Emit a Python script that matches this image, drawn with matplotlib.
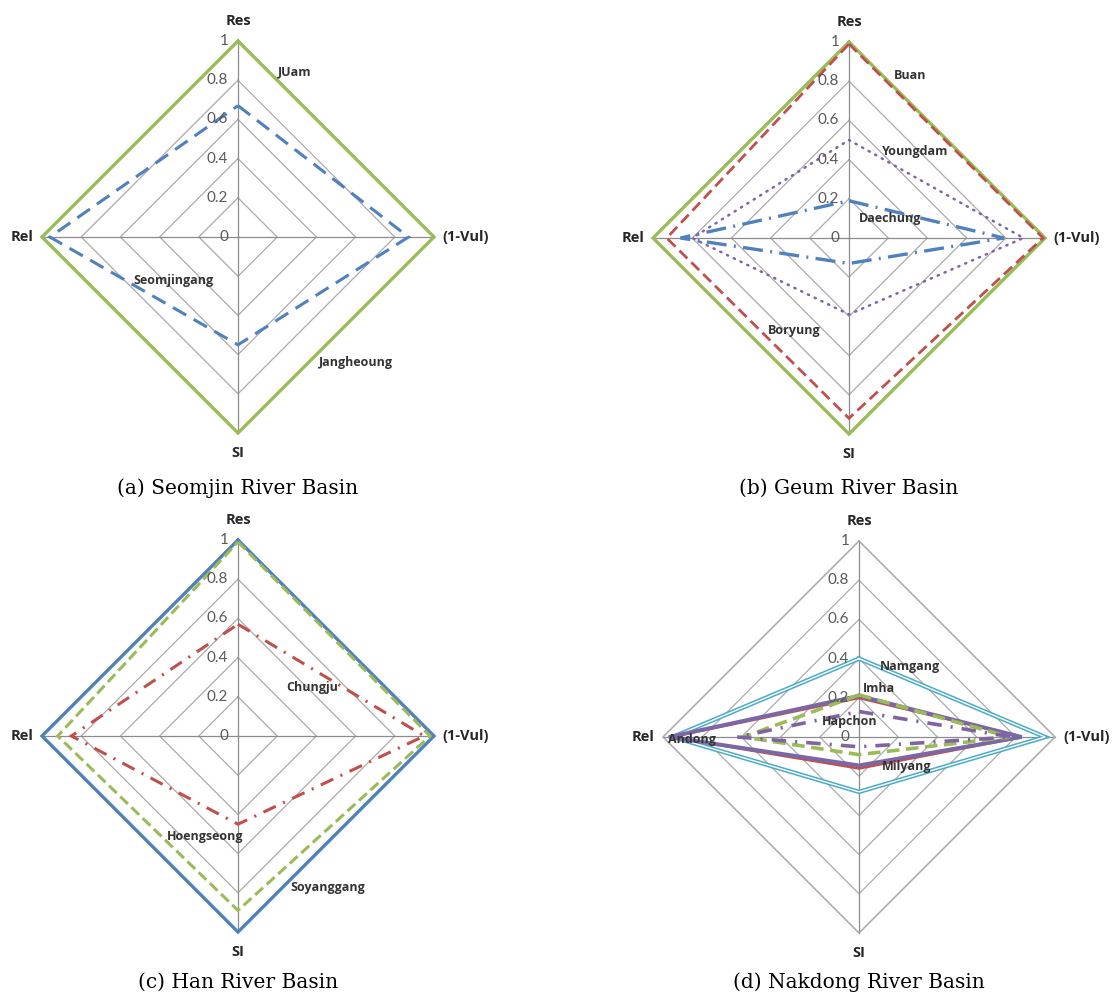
import numpy as np
import matplotlib
matplotlib.use("Agg")
import matplotlib.pyplot as plt

# ---------------- data ----------------
axis_labels = ["Res", "(1-Vul)", "SI", "Rel"]
tick_values = [0, 0.2, 0.4, 0.6, 0.8, 1.0]
tick_labels = ["0", "0.2", "0.4", "0.6", "0.8", "1"]

# (a) Seomjin River Basin  [Res, (1-Vul), SI, Rel]
seomjin_full = [1.0, 1.0, 1.0, 1.0]
seomjin_dash = [0.67, 0.87, 0.55, 0.96]
seomjin_names = ["JUam", "Seomjingang", "Jangheoung"]

# (b) Geum River Basin
geum_buan = [1.0, 1.0, 1.0, 1.0]
geum_red = [0.99, 0.99, 0.92, 0.93]
geum_youngdam = [0.50, 0.89, 0.39, 0.80]
geum_daechung = [0.19, 0.79, 0.13, 0.86]
geum_names = ["Buan", "Youngdam", "Daechung", "Boryung"]

# (c) Han River Basin
han_blue = [1.0, 1.0, 1.0, 1.0]
han_green = [0.99, 0.98, 0.89, 0.92]
han_red = [0.57, 0.95, 0.45, 0.85]
han_names = ["Chungju", "Hoengseong", "Soyanggang"]

# (d) Nakdong River Basin
nak_namgang = [0.40, 0.95, 0.28, 0.95]
nak_milyang = [0.20, 0.83, 0.16, 0.96]
nak_andong = [0.21, 0.83, 0.145, 0.97]
nak_imha = [0.215, 0.77, 0.09, 0.59]
nak_hapchon = [0.13, 0.78, 0.05, 0.62]
nak_names = ["Namgang", "Imha", "Hapchon", "Andong", "Milyang"]

captions = ["(a) Seomjin River Basin", "(b) Geum River Basin",
            "(c) Han River Basin", "(d) Nakdong River Basin"]

# ---------------- colours ----------------
GREEN = "#9BBB59"
BLUE = "#4F81BD"
RED = "#C0504D"
PURPLE = "#8064A2"
CYAN = "#4BACC6"
GRID = "#ABABAB"

W, H = 1115, 994
fig = plt.figure(figsize=(W / 100, H / 100), dpi=100)
fig.patch.set_facecolor("white")

R = 196.0
K = 1.2
angles = np.deg2rad([90, 0, -90, 180])


def make_ax(cx, cy):
    ax = fig.add_axes([(cx - R * K) / W, 1 - (cy + R * K) / H,
                       2 * R * K / W, 2 * R * K / H])
    ax.set_xlim(-K, K)
    ax.set_ylim(-K, K)
    ax.axis("off")
    return ax


def xy(vals):
    v = np.asarray(vals + [vals[0]], dtype=float)
    a = np.concatenate([angles, angles[:1]])
    return v * np.cos(a), v * np.sin(a)


def base(ax):
    for t in tick_values[1:]:
        x, y = xy([t] * 4)
        ax.plot(x, y, color=GRID, lw=0.9, zorder=1)
    for a in angles:
        ax.plot([0, np.cos(a)], [0, np.sin(a)], color="#8C8C8C", lw=0.9, zorder=1)
    for t, lab in zip(tick_values, tick_labels):
        ax.text(-0.05, t, lab, ha="right", va="center", fontsize=11,
                family="Lato", color="#595959", zorder=5)
    fam = "Open Sans"
    ax.text(0, 1.10, axis_labels[0], ha="center", va="center", fontsize=10.5,
            fontweight="bold", family=fam, color="#262626")
    ax.text(1.045, 0, axis_labels[1], ha="left", va="center", fontsize=10.5,
            fontweight="bold", family=fam, color="#262626")
    ax.text(0, -1.10, axis_labels[2], ha="center", va="center", fontsize=10.5,
            fontweight="bold", family=fam, color="#262626")
    ax.text(-1.045, 0, axis_labels[3], ha="right", va="center", fontsize=10.5,
            fontweight="bold", family=fam, color="#262626")


def series(ax, vals, **kw):
    x, y = xy(vals)
    ax.plot(x, y, solid_joinstyle="miter", dash_joinstyle="miter", **kw)


def name(ax, x, y, s):
    ax.text(x, y, s, ha="center", va="center", fontsize=9, fontweight="bold",
            family="Open Sans", color="#333333", zorder=6)


def caption(cx, cy, s):
    fig.text(cx / W, 1 - cy / H, s, ha="center", va="center",
             fontsize=14.5, family="DejaVu Serif", color="black")


# (a)
ax = make_ax(238, 237)
base(ax)
series(ax, seomjin_full, color=GREEN, lw=2.4, zorder=3)
series(ax, seomjin_dash, color=BLUE, lw=2.2, linestyle=(0, (5, 2.8)), zorder=4)
name(ax, 0.29, 0.84, seomjin_names[0])
name(ax, -0.33, -0.22, seomjin_names[1])
name(ax, 0.60, -0.64, seomjin_names[2])
caption(238, 488, captions[0])

# (b)
ax = make_ax(849, 238)
base(ax)
series(ax, geum_buan, color=GREEN, lw=2.4, zorder=3)
series(ax, geum_red, color=RED, lw=2.0, linestyle=(0, (4, 2)), zorder=4)
series(ax, geum_youngdam, color=PURPLE, lw=1.8, linestyle=(0, (0.5, 2.5)),
       dash_capstyle="round", zorder=4)
series(ax, geum_daechung, color=BLUE, lw=2.4, linestyle=(0, (6, 2.2, 0.6, 2.2)), zorder=4)
name(ax, 0.31, 0.83, geum_names[0])
name(ax, 0.34, 0.44, geum_names[1])
name(ax, 0.21, 0.10, geum_names[2])
name(ax, -0.28, -0.47, geum_names[3])
caption(849, 488, captions[1])

# (c)
ax = make_ax(238, 736)
base(ax)
series(ax, han_blue, color=BLUE, lw=2.4, zorder=3)
series(ax, han_green, color=GREEN, lw=2.2, linestyle=(0, (3.5, 1.6)), zorder=4)
series(ax, han_red, color=RED, lw=2.2, linestyle=(0, (4.5, 2.6, 0.7, 2.6)), zorder=4)
name(ax, 0.38, 0.245, han_names[0])
name(ax, -0.17, -0.515, han_names[1])
name(ax, 0.46, -0.775, han_names[2])
caption(238, 982, captions[2])

# (d)
ax = make_ax(859, 737)
base(ax)
x, y = xy([1.0] * 4)
ax.plot(x, y, color=GRID, lw=0.9, zorder=1)
series(ax, nak_namgang, color=CYAN, lw=3.2, zorder=3)
series(ax, nak_namgang, color="white", lw=1.0, zorder=3)
series(ax, nak_milyang, color=RED, lw=2.0, zorder=3)
series(ax, nak_andong, color="#7A68A6", lw=2.8, zorder=4)
series(ax, nak_imha, color=GREEN, lw=2.6, linestyle=(0, (3.5, 1.8)), zorder=4)
series(ax, nak_hapchon, color=PURPLE, lw=2.6, linestyle=(0, (4, 2.5, 0.6, 2.5)), zorder=4)
name(ax, 0.26, 0.36, nak_names[0])
name(ax, 0.10, 0.245, nak_names[1])
name(ax, -0.045, 0.08, nak_names[2])
name(ax, -0.85, -0.015, nak_names[3])
name(ax, 0.245, -0.15, nak_names[4])
caption(859, 982, captions[3])

fig.savefig("out.png", dpi=100, facecolor="white")
